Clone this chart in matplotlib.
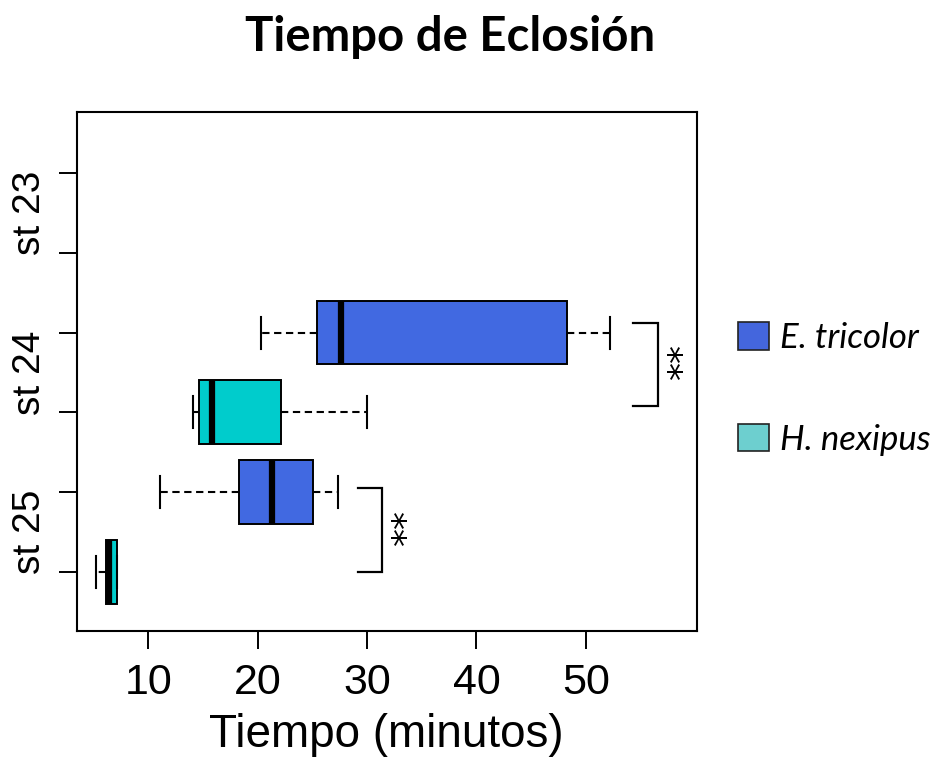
#!/usr/bin/env python3
import matplotlib
matplotlib.use("Agg")
import matplotlib.pyplot as plt
from matplotlib.patches import Patch

# ======== Data ========
STAGES = ["st 23", "st 24", "st 25"]
SPECIES = ["E. tricolor", "H. nexipus"]

# five-number summaries (whisker low, Q1, median, Q3, whisker high), minutes
E_TRICOLOR_ST24 = [20.3, 25.4, 27.6, 48.3, 52.2]
H_NEXIPUS_ST24 = [14.05, 14.6, 15.85, 22.15, 30.0]
E_TRICOLOR_ST25 = [11.1, 18.25, 21.35, 25.1, 27.3]
H_NEXIPUS_ST25 = [5.2, 6.1, 6.4, 7.1, 7.1]

# box slots from bottom (1) to top (6); st 23 has no data
BOX_SLOTS = [1, 2, 3, 4]
BOX_DATA = [H_NEXIPUS_ST25, E_TRICOLOR_ST25, H_NEXIPUS_ST24, E_TRICOLOR_ST24]
BOX_SPECIES = [1, 0, 1, 0]

# significance brackets: (slot low, slot high, x start, x end, label)
SIG_BRACKETS = [(1.0, 2.06, 29.2, 31.4, "**"), (3.08, 4.12, 54.3, 56.6, "**")]

X_TICKS = [10, 20, 30, 40, 50]
Y_LABEL_POS = [5.5, 3.5, 1.5]

# ======== Styles ========
BOX_COLORS = ["#4169e1", "#00cccc"]
LEGEND_COLORS = ["#4466dd", "#6dcfcf"]
AXIS_FONT = ["Liberation Sans", "DejaVu Sans"]
TITLE_FONT = ["Lato", "DejaVu Sans"]


def make_stats(values):
    lo, q1, med, q3, hi = values
    return {"whislo": lo, "q1": q1, "med": med, "q3": q3, "whishi": hi, "fliers": []}


def main():
    fig = plt.figure(figsize=(9.48, 7.65), dpi=100)
    ax = fig.add_axes([0.0809, 0.1752, 0.6540, 0.6784])

    stats = [make_stats(v) for v in BOX_DATA]
    res = ax.bxp(
        stats,
        positions=BOX_SLOTS,
        widths=0.8,
        orientation="horizontal",
        patch_artist=True,
        showfliers=False,
        boxprops=dict(edgecolor="black", linewidth=1.4),
        medianprops=dict(color="black", linewidth=4.5, solid_capstyle="butt"),
        whiskerprops=dict(color="black", linewidth=1.5, linestyle=(0, (3.5, 2.2))),
        capprops=dict(color="black", linewidth=1.5),
        capwidths=0.4,
    )
    for patch, sp in zip(res["boxes"], BOX_SPECIES):
        patch.set_facecolor(BOX_COLORS[sp])

    # significance brackets
    for y0, y1, x0, x1, label in SIG_BRACKETS:
        ax.plot([x0, x1, x1, x0], [y1, y1, y0, y0], color="black", lw=1.6,
                solid_joinstyle="miter")
        ax.text(x1 + 0.6, (y0 + y1) / 2, label, rotation=270, ha="center",
                va="center", fontsize=26, family=["DejaVu Sans"])

    ax.set_xlim(3.46, 60.13)
    ax.set_ylim(0.265, 6.76)

    ax.set_xticks(X_TICKS)
    ax.set_xticklabels([str(t) for t in X_TICKS], family=AXIS_FONT, fontsize=31)
    ax.tick_params(axis="x", length=13, width=1.4, pad=10)

    ax.set_yticks(range(1, 7))
    ax.set_yticklabels([])
    ax.tick_params(axis="y", which="major", length=13, width=1.4)
    ax.set_yticks(Y_LABEL_POS, minor=True)
    ax.set_yticklabels(STAGES, minor=True, rotation=90, va="center",
                       family=AXIS_FONT, fontsize=28)
    ax.tick_params(axis="y", which="minor", length=0, pad=21)

    for sp in ax.spines.values():
        sp.set_linewidth(1.5)

    ax.set_xlabel("Tiempo (minutos)", family=AXIS_FONT, fontsize=33, labelpad=7)

    fig.text(0.475, 0.952, "Tiempo de Eclosión", ha="center", va="center",
             family=TITLE_FONT, fontweight="bold", fontsize=34)

    handles = [Patch(facecolor=c, edgecolor="#222222", linewidth=1.2)
               for c in LEGEND_COLORS]
    fig.legend(handles, SPECIES, loc="upper left",
               bbox_to_anchor=(0.764, 0.597), frameon=False,
               handlelength=0.9, handleheight=0.85, handletextpad=0.3,
               labelspacing=2.0, borderaxespad=0,
               prop=dict(family=TITLE_FONT, style="italic", size=25))

    fig.savefig("out.png", dpi=100)


if __name__ == "__main__":
    main()
